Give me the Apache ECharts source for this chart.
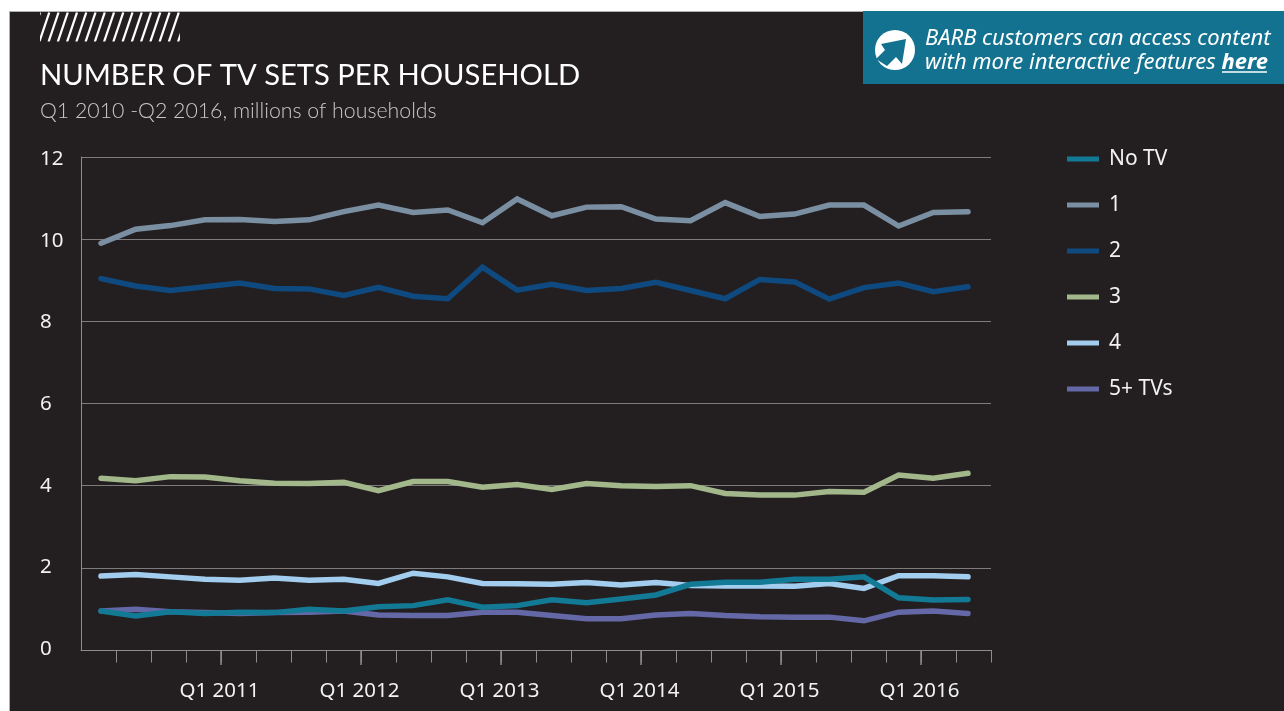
<!DOCTYPE html>
<html><head><meta charset="utf-8">
<style>html,body{margin:0;padding:0;background:#fff}#c{width:1284px;height:711px}</style>
<script src="https://cdn.jsdelivr.net/npm/echarts@6/dist/echarts.min.js"></script>
</head><body><div id="c"></div>
<script>
const quarters = ['Q1 2010','Q2 2010','Q3 2010','Q4 2010','Q1 2011','Q2 2011','Q3 2011','Q4 2011','Q1 2012','Q2 2012','Q3 2012','Q4 2012','Q1 2013','Q2 2013','Q3 2013','Q4 2013','Q1 2014','Q2 2014','Q3 2014','Q4 2014','Q1 2015','Q2 2015','Q3 2015','Q4 2015','Q1 2016','Q2 2016'];
const tickLabels = ['','','','','Q1 2011','','','','Q1 2012','','','','Q1 2013','','','','Q1 2014','','','','Q1 2015','','','','Q1 2016','',''];
const noTV = [0.95,0.83,0.93,0.89,0.92,0.91,0.99,0.95,1.05,1.08,1.22,1.04,1.08,1.22,1.15,1.24,1.34,1.60,1.65,1.65,1.72,1.72,1.78,1.27,1.22,1.23];
const one = [9.90,10.24,10.33,10.47,10.48,10.43,10.47,10.67,10.83,10.65,10.71,10.40,10.98,10.57,10.78,10.79,10.49,10.45,10.89,10.55,10.61,10.83,10.83,10.32,10.65,10.67];
const two = [9.04,8.86,8.75,8.84,8.93,8.80,8.79,8.63,8.83,8.61,8.55,9.32,8.76,8.90,8.75,8.80,8.95,8.75,8.55,9.02,8.96,8.54,8.82,8.93,8.72,8.84];
const three = [4.18,4.12,4.22,4.21,4.12,4.06,4.05,4.08,3.88,4.10,4.10,3.96,4.03,3.91,4.05,4.00,3.98,4.00,3.81,3.77,3.77,3.86,3.84,4.26,4.18,4.30];
const four = [1.80,1.84,1.78,1.72,1.70,1.75,1.70,1.72,1.62,1.87,1.78,1.62,1.61,1.60,1.64,1.58,1.64,1.57,1.56,1.56,1.55,1.62,1.50,1.81,1.81,1.78];
const fivePlus = [0.95,0.99,0.93,0.91,0.89,0.91,0.92,0.95,0.85,0.84,0.84,0.92,0.92,0.84,0.76,0.76,0.85,0.89,0.84,0.81,0.80,0.80,0.71,0.92,0.95,0.89];
const names = ['No TV','1','2','3','4','5+ TVs'];
const colors = ['#137a96','#7b8fa3','#0e4a7f','#a3b88a','#a2cdee','#6468a6'];
const values = [noTV, one, two, three, four, fivePlus];
const zs = [6,3,3,3,4,2];

const BG = '#231f20', FONT = '"Noto Sans"', LIGHT = 'Lato';
const hatch = [];
for (let x = 30; x < 180; x += 9.25) {
  hatch.push({type:'line', silent:true, z:1, shape:{x1:x+10, y1:12.5, x2:x, y2:42}, style:{stroke:'#fff', lineWidth:2.3}});
}
const graphic = [
  {type:'rect', silent:true, z:-10, shape:{x:9.5, y:11.5, width:1290, height:710}, style:{fill:BG, stroke:'#b0b0b0', lineWidth:1}},
  ...hatch,
  {type:'rect', silent:true, z:2, shape:{x:25, y:12, width:15, height:32}, style:{fill:BG}},
  {type:'rect', silent:true, z:2, shape:{x:180, y:12, width:25, height:32}, style:{fill:BG}},
  {type:'rect', silent:true, z:2, shape:{x:25, y:41.5, width:180, height:4}, style:{fill:BG}},
  {type:'rect', silent:true, z:5, shape:{x:863, y:11, width:421, height:73}, style:{fill:'#13728f'}},
  {type:'circle', silent:true, z:6, shape:{cx:895, cy:50, r:20}, style:{fill:'#fff'}},
  {type:'polygon', silent:true, z:7, shape:{points:[[881,44],[906,39],[902,64],[896,57],[887,66],[876,59],[885,50]]}, style:{fill:'#13728f'}},
  {type:'text', silent:true, z:7, x:925, y:27, style:{
    text:'BARB customers can access content\nwith more interactive features {b|here}',
    fill:'#fff', font:'italic 22px "Noto Sans"', lineHeight:24,
    rich:{b:{fontFamily:FONT, fontStyle:'italic', fontWeight:'bold', fontSize:22, fill:'#fff', color:'#fff', lineHeight:24}}
  }},
  {type:'line', silent:true, z:7, shape:{x1:1222, y1:72, x2:1267, y2:72}, style:{stroke:'#fff', lineWidth:1.5}}
];

const chart = echarts.init(document.getElementById('c'), null, {renderer:'canvas'});
chart.setOption({
  animation:false,
  backgroundColor:'#fff',
  textStyle:{fontFamily:FONT},
  graphic,
  title:[
    {text:'NUMBER OF TV SETS PER HOUSEHOLD', left:40, top:57.5, padding:0, textStyle:{color:'#fff', fontFamily:LIGHT, fontWeight:400, fontSize:29.2, lineHeight:36}},
    {text:'Q1 2010 -Q2 2016, millions of households', left:40, top:97, padding:0, textStyle:{color:'#c8c8c8', fontFamily:LIGHT, fontWeight:300, fontSize:21.3, lineHeight:28}}
  ],
  legend:{
    orient:'vertical', left:1067, top:148, padding:0, itemWidth:32, itemHeight:5, itemGap:24, icon:'rect',
    data:names, selectedMode:false,
    textStyle:{color:'#f2f2f2', fontFamily:FONT, fontSize:21, lineHeight:22, padding:[0,0,0,5]}
  },
  grid:[
    {left:81, top:157, width:910, height:493, containLabel:false},
    {left:101, top:157, width:867, height:493, containLabel:false},
    {left:81, top:159, width:910, height:490, containLabel:false}
  ],
  xAxis:[
    {type:'category', gridIndex:0, position:'bottom', data:tickLabels, boundaryGap:false,
     axisLine:{lineStyle:{color:'#8c8c8c', width:1}},
     axisTick:{show:true, interval:(i)=>i>0, length:12.5, lineStyle:{color:'#8c8c8c', width:1}},
     axisLabel:{show:true, interval:0, margin:31, color:'#f2f2f2', fontFamily:FONT, fontSize:20.5, padding:[0,3,0,0]},
     splitLine:{show:false}},
    {type:'category', gridIndex:0, position:'bottom', data:tickLabels, boundaryGap:false,
     axisLine:{show:false},
     axisTick:{show:true, interval:(i)=>i>0&&i%4===0, length:15, lineStyle:{color:'#8c8c8c', width:1.5}},
     axisLabel:{show:false}, splitLine:{show:false}},
    {type:'category', gridIndex:1, position:'bottom', data:quarters, boundaryGap:false,
     axisLine:{show:false}, axisTick:{show:false}, axisLabel:{show:false}, splitLine:{show:false}},
    {type:'category', gridIndex:2, position:'bottom', data:quarters, show:false}
  ],
  yAxis:[
    {type:'value', gridIndex:0, min:0, max:12, interval:2,
     axisLine:{show:true, lineStyle:{color:'#8c8c8c', width:1}}, axisTick:{show:false},
     axisLabel:{show:false},
     splitLine:{show:true, lineStyle:{color:'#7d7b7c', width:1}}},
    {type:'value', gridIndex:1, min:0, max:12, interval:2, show:false, splitLine:{show:false}},
    {type:'value', gridIndex:2, min:0, max:12, interval:2,
     axisLine:{show:false}, axisTick:{show:false}, splitLine:{show:false},
     axisLabel:{margin:41, align:'left', color:'#f2f2f2', fontFamily:FONT, fontSize:20.5}}
  ],
  series:names.map((n,i)=>({
    name:n, type:'line', xAxisIndex:2, yAxisIndex:1, data:values[i], z:zs[i],
    symbol:'none', smooth:false, color:colors[i],
    lineStyle:{color:colors[i], width:5.5, cap:'round', join:'miter'},
    itemStyle:{color:colors[i]}
  }))
});
</script></body></html>
